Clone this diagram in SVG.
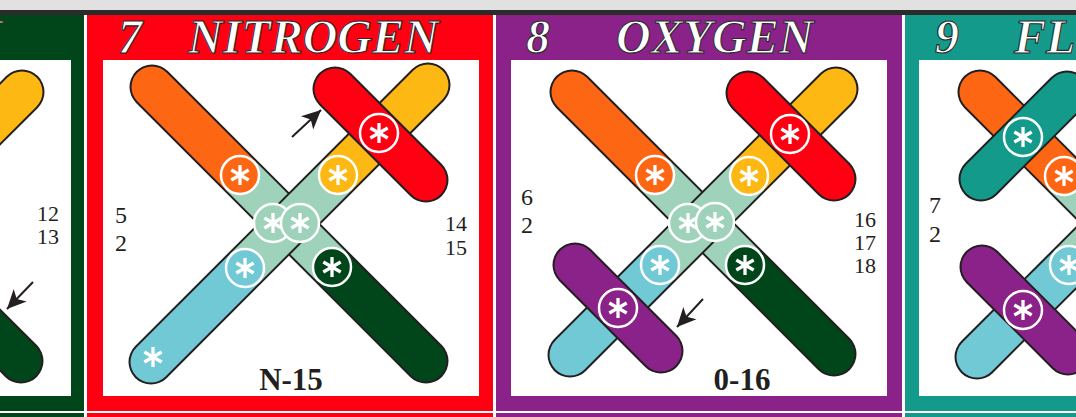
<svg xmlns="http://www.w3.org/2000/svg" width="1076" height="417" viewBox="0 0 1076 417">
<defs>
<style>
.title{font-family:"Liberation Serif",serif;font-weight:bold;font-style:italic;font-size:48px;fill:#fff;stroke:#2a2a2a;stroke-width:1.1}
.num{font-family:"Liberation Serif",serif;font-size:22px;fill:#231f20}
.numL{font-family:"Liberation Serif",serif;font-size:24px;fill:#231f20}
.lbl{font-family:"Liberation Serif",serif;font-weight:bold;font-size:31px;fill:#231f20;text-anchor:middle}
.ol{stroke:#231f20;stroke-width:45;stroke-linecap:round;fill:none}
.r{stroke-width:41;stroke-linecap:round;fill:none}
.b{stroke-width:41;stroke-linecap:butt;fill:none}
.c{stroke:#fff;stroke-width:2.5}
.ast{stroke:#fff;stroke-width:3.3;fill:none}
.arr{stroke:#231f20;stroke-width:2;fill:none}
</style>
<g id="ast"><line class="ast" x1="0" y1="-10" x2="0" y2="10"/><line class="ast" x1="-8.7" y1="-5" x2="8.7" y2="5"/><line class="ast" x1="-8.7" y1="5" x2="8.7" y2="-5"/></g>
<marker id="ah" markerUnits="userSpaceOnUse" markerWidth="22" markerHeight="20" refX="19" refY="10" orient="auto"><path d="M0,1 L19,10 L0,19 L5,10 Z" fill="#231f20"/></marker>
</defs>
<rect x="0" y="0" width="1076" height="417" fill="#fff"/>
<rect x="0" y="0" width="1076" height="10" fill="#e1e1e1"/>
<rect x="0" y="10" width="1076" height="5" fill="#2b2b2b"/>
<rect x="0" y="413" width="84" height="4" fill="#00461a"/>
<rect x="87" y="413" width="406" height="4" fill="#ff0012"/>
<rect x="496" y="413" width="406" height="4" fill="#8b2289"/>
<rect x="905" y="413" width="171" height="4" fill="#149a8b"/>

<g id="panel-carbon">
<path d="M-322,15 H84 V411 H-322 Z M-306,60 V396 H71 V60 Z" fill="#00461a" fill-rule="evenodd"/>
<text class="title" x="2" y="53" text-anchor="end">CARBON</text>
<g id="carbon-bar2"><line class="ol" x1="22" y1="92" x2="-120" y2="234"/><line class="r" stroke="#fdb813" x1="22" y1="92" x2="-120" y2="234"/></g>
<g id="carbon-bar1"><line class="ol" x1="-120" y1="220" x2="21" y2="361"/><line class="r" stroke="#00461a" x1="-120" y1="220" x2="21" y2="361"/></g>
<text class="num" x="59" y="221" text-anchor="end">12</text>
<text class="num" x="59" y="244" text-anchor="end">13</text>
</g>

<g id="panel-nitrogen">
<path d="M87,15 H493 V411 H87 Z M103,60 V396 H479 V60 Z" fill="#ff0012" fill-rule="evenodd"/>
<text class="title" x="118" y="53">7</text>
<text class="title" x="188" y="53">NITROGEN</text>
<g id="n-bar1">
<line class="ol" x1="152" y1="87" x2="426" y2="361"/>
<line class="r" stroke="#fd6714" x1="152" y1="87" x2="240" y2="175"/>
<line class="r" stroke="#00461a" x1="332" y1="267" x2="426" y2="361"/>
<line class="b" stroke="#9ed2bb" x1="240" y1="175" x2="332" y2="267"/>
</g>
<g id="n-bar2">
<line class="ol" x1="151" y1="362" x2="428" y2="85"/>
<line class="r" stroke="#72c9d6" x1="151" y1="362" x2="245" y2="268"/>
<line class="r" stroke="#fdb813" x1="338" y1="175" x2="428" y2="85"/>
<line class="b" stroke="#9ed2bb" x1="245" y1="268" x2="338" y2="175"/>
</g>
<g id="n-red">
<line class="ol" x1="335" y1="89" x2="426" y2="180"/>
<line class="r" stroke="#ff0012" x1="335" y1="89" x2="426" y2="180"/>
<circle class="c" cx="379" cy="133" r="19" fill="#ff0012"/><use href="#ast" x="379" y="133"/>
</g>
<g id="n-orange-c"><circle class="c" cx="240" cy="175" r="19" fill="#fd6714"/><use href="#ast" x="240" y="175"/></g>
<g id="n-yellow-c"><circle class="c" cx="338" cy="175" r="19" fill="#fdb813"/><use href="#ast" x="338" y="175"/></g>
<g id="n-blue-c"><circle class="c" cx="245" cy="268" r="19" fill="#72c9d6"/><use href="#ast" x="245" y="268"/></g>
<g id="n-dkgreen-c"><circle class="c" cx="332" cy="267" r="19" fill="#00461a"/><use href="#ast" x="332" y="267"/></g>
<g id="n-green-c1"><circle class="c" cx="273" cy="223" r="19" fill="#9ed2bb"/><use href="#ast" x="273" y="223"/></g>
<g id="n-green-c2"><circle class="c" cx="300" cy="223" r="19" fill="#9ed2bb"/><use href="#ast" x="300" y="223"/></g>
<use id="n-end-ast" href="#ast" x="153" y="357"/>
<text class="numL" x="115" y="223">5</text>
<text class="numL" x="115" y="251">2</text>
<text class="num" x="467" y="231" text-anchor="end">14</text>
<text class="num" x="467" y="255" text-anchor="end">15</text>
<text class="lbl" x="291" y="390">N-15</text>
</g>

<g id="panel-oxygen">
<path d="M496,15 H902 V411 H496 Z M511,60 V396 H887 V60 Z" fill="#8b2289" fill-rule="evenodd"/>
<text class="title" x="526" y="53">8</text>
<text class="title" x="616" y="53">OXYGEN</text>
<g id="o-bar1">
<line class="ol" x1="572" y1="92" x2="834" y2="354"/>
<line class="r" stroke="#fd6714" x1="572" y1="92" x2="655" y2="175"/>
<line class="r" stroke="#00461a" x1="745" y1="265" x2="834" y2="354"/>
<line class="b" stroke="#9ed2bb" x1="655" y1="175" x2="745" y2="265"/>
</g>
<g id="o-bar2">
<line class="ol" x1="570" y1="355" x2="836" y2="89"/>
<line class="r" stroke="#72c9d6" x1="570" y1="355" x2="660" y2="265"/>
<line class="r" stroke="#fdb813" x1="749" y1="176" x2="836" y2="89"/>
<line class="b" stroke="#9ed2bb" x1="660" y1="265" x2="749" y2="176"/>
</g>
<g id="o-red">
<line class="ol" x1="748" y1="93" x2="834" y2="179"/>
<line class="r" stroke="#ff0012" x1="748" y1="93" x2="834" y2="179"/>
<circle class="c" cx="790" cy="134" r="19" fill="#ff0012"/><use href="#ast" x="790" y="134"/>
</g>
<g id="o-purple">
<line class="ol" x1="575" y1="265" x2="661" y2="351"/>
<line class="r" stroke="#8b2289" x1="575" y1="265" x2="661" y2="351"/>
<circle class="c" cx="618" cy="308" r="19" fill="#8b2289"/><use href="#ast" x="618" y="308"/>
</g>
<g id="o-orange-c"><circle class="c" cx="655" cy="175" r="19" fill="#fd6714"/><use href="#ast" x="655" y="175"/></g>
<g id="o-yellow-c"><circle class="c" cx="749" cy="176" r="19" fill="#fdb813"/><use href="#ast" x="749" y="176"/></g>
<g id="o-blue-c"><circle class="c" cx="660" cy="265" r="19" fill="#72c9d6"/><use href="#ast" x="660" y="265"/></g>
<g id="o-dkgreen-c"><circle class="c" cx="745" cy="265" r="19" fill="#00461a"/><use href="#ast" x="745" y="265"/></g>
<g id="o-green-c1"><circle class="c" cx="688" cy="223" r="19" fill="#9ed2bb"/><use href="#ast" x="688" y="223"/></g>
<g id="o-green-c2"><circle class="c" cx="715" cy="222" r="19" fill="#9ed2bb"/><use href="#ast" x="715" y="222"/></g>
<text class="numL" x="521" y="205">6</text>
<text class="numL" x="521" y="233">2</text>
<text class="num" x="876" y="227" text-anchor="end">16</text>
<text class="num" x="876" y="250" text-anchor="end">17</text>
<text class="num" x="876" y="273" text-anchor="end">18</text>
<text class="lbl" x="742" y="390">0-16</text>
</g>

<g id="panel-fluorine">
<path d="M905,15 H1311 V411 H905 Z M919,60 V396 H1296 V60 Z" fill="#149a8b" fill-rule="evenodd"/>
<text class="title" x="935" y="53">9</text>
<text class="title" x="1014" y="53">FLUORINE</text>
<g id="f-bar1">
<line class="ol" x1="980" y1="92" x2="1243" y2="355"/>
<line class="r" stroke="#fd6714" x1="980" y1="92" x2="1064" y2="176"/>
<line class="r" stroke="#00461a" x1="1154" y1="266" x2="1243" y2="355"/>
<line class="b" stroke="#9ed2bb" x1="1064" y1="176" x2="1154" y2="266"/>
</g>
<g id="f-bar2">
<line class="ol" x1="977" y1="357" x2="1245" y2="89"/>
<line class="r" stroke="#72c9d6" x1="977" y1="357" x2="1069" y2="265"/>
<line class="r" stroke="#fdb813" x1="1158" y1="176" x2="1245" y2="89"/>
<line class="b" stroke="#9ed2bb" x1="1069" y1="265" x2="1158" y2="176"/>
</g>
<g id="f-teal">
<line class="ol" x1="981" y1="179" x2="1067" y2="93"/>
<line class="r" stroke="#149a8b" x1="981" y1="179" x2="1067" y2="93"/>
<circle class="c" cx="1023" cy="137" r="19" fill="#149a8b"/><use href="#ast" x="1023" y="137"/>
</g>
<g id="f-purple">
<line class="ol" x1="982" y1="267" x2="1068" y2="353"/>
<line class="r" stroke="#8b2289" x1="982" y1="267" x2="1068" y2="353"/>
<circle class="c" cx="1023" cy="310" r="19" fill="#8b2289"/><use href="#ast" x="1023" y="310"/>
</g>
<g id="f-orange-c"><circle class="c" cx="1064" cy="176" r="19" fill="#fd6714"/><use href="#ast" x="1064" y="176"/></g>
<g id="f-blue-c"><circle class="c" cx="1069" cy="265" r="19" fill="#72c9d6"/><use href="#ast" x="1069" y="265"/></g>
<text class="numL" x="929" y="213">7</text>
<text class="numL" x="929" y="242">2</text>
</g>

<g id="connectors">
<line class="arr" x1="292" y1="137" x2="321" y2="110" marker-end="url(#ah)"/>
<line class="arr" x1="703" y1="299" x2="677" y2="327" marker-end="url(#ah)"/>
<line class="arr" x1="33" y1="282" x2="7" y2="309" marker-end="url(#ah)"/>
</g>
</svg>
